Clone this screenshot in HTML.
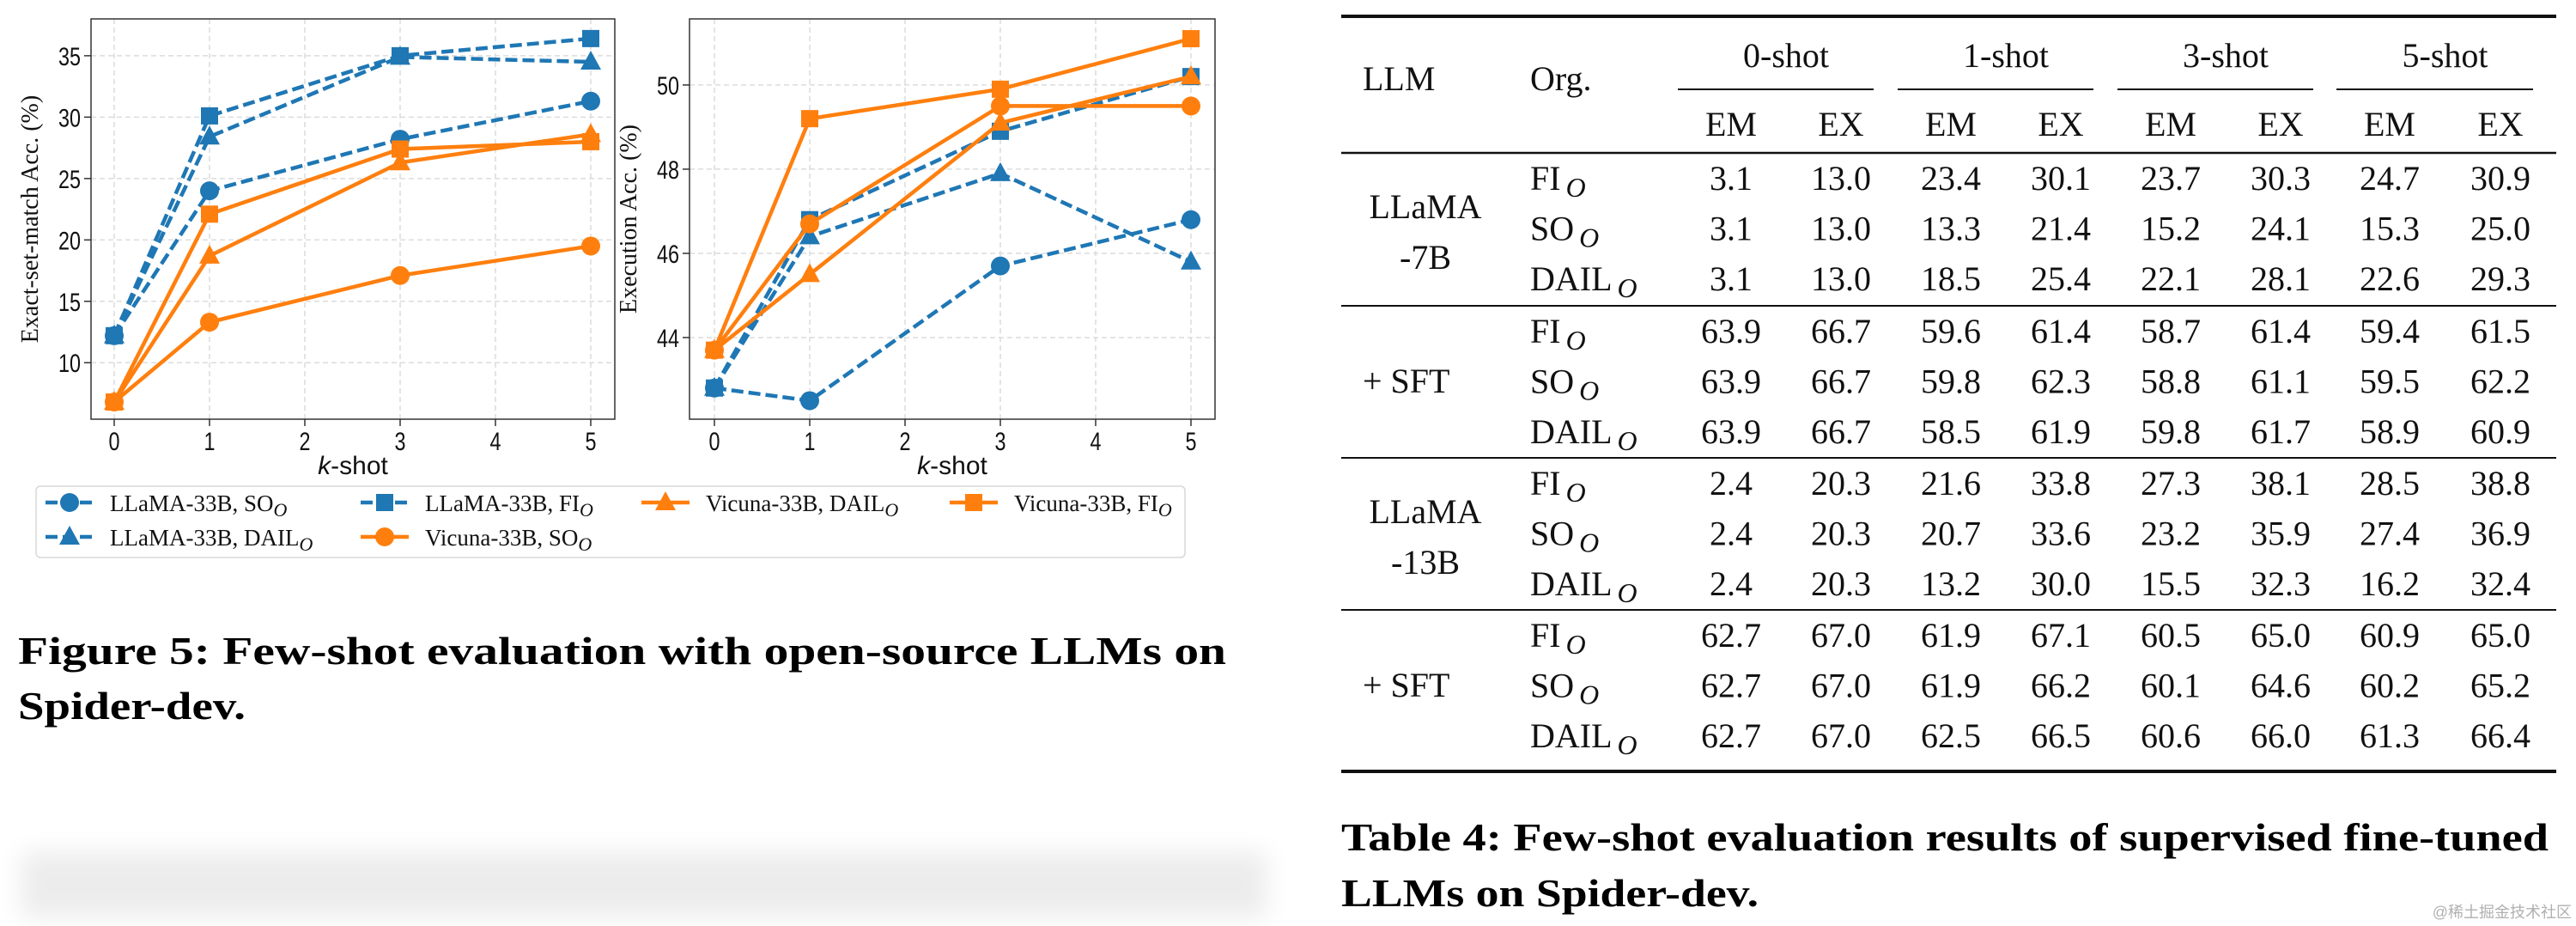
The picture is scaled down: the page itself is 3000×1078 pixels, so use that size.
<!DOCTYPE html>
<html><head><meta charset="utf-8"><style>
html,body{margin:0;padding:0;background:#fff;}
svg{display:block;}
.t{font-family:"Liberation Serif",serif;}
</style></head><body>
<svg id="root" width="3000" height="1078" viewBox="0 0 3000 1078" xmlns="http://www.w3.org/2000/svg">
<defs>
<filter id="blur" x="-10%" y="-50%" width="120%" height="200%"><feGaussianBlur stdDeviation="14"/></filter>
</defs>
<g id="charts"></g>
<g id="legend"></g>
<text class="t" x="21" y="773" font-size="46" font-weight="bold" textLength="1407" lengthAdjust="spacingAndGlyphs">Figure 5: Few-shot evaluation with open-source LLMs on</text>
<text class="t" x="21" y="837" font-size="46" font-weight="bold" textLength="265" lengthAdjust="spacingAndGlyphs">Spider-dev.</text>
<rect x="25" y="992" width="1450" height="76" fill="#ececec" filter="url(#blur)"/>
<g id="table"></g>
<text class="t" x="1562" y="990" font-size="46" font-weight="bold" textLength="1406" lengthAdjust="spacingAndGlyphs">Table 4: Few-shot evaluation results of supervised fine-tuned</text>
<text class="t" x="1562" y="1055" font-size="46" font-weight="bold" textLength="486" lengthAdjust="spacingAndGlyphs">LLMs on Spider-dev.</text>
<text x="2995" y="1068" text-anchor="end" font-family="'Liberation Sans','Noto Sans CJK SC',sans-serif" font-size="18" fill="#b0b0b0">@稀土掘金技术社区</text>
</svg>
<script>
const NS='http://www.w3.org/2000/svg';
// ---- chart data ----
const kshots=[0,1,3,5];
const xTicks=[0,1,2,3,4,5];
const emTicks=[10,15,20,25,30,35];
const exTicks=[44,46,48,50];
const seriesNames=['LLaMA-33B, SO','LLaMA-33B, FI','LLaMA-33B, DAIL','Vicuna-33B, DAIL','Vicuna-33B, FI','Vicuna-33B, SO'];
const emLlamaSO=[12.2,24.0,28.2,31.3];
const emLlamaFI=[12.2,30.1,35.0,36.4];
const emLlamaDAIL=[12.2,28.4,34.9,34.5];
const emVicunaDAIL=[6.8,18.7,26.3,28.6];
const emVicunaFI=[6.8,22.1,27.4,28.0];
const emVicunaSO=[6.8,13.3,17.1,19.5];
const exLlamaSO=[42.8,42.5,45.7,46.8];
const exLlamaFI=[42.8,46.8,48.9,50.2];
const exLlamaDAIL=[42.8,46.4,47.9,45.8];
const exVicunaDAIL=[43.7,45.5,49.1,50.2];
const exVicunaFI=[43.7,49.2,49.9,51.1];
const exVicunaSO=[43.7,46.7,49.5,49.5];

function el(tag,attrs,parent){const e=document.createElementNS(NS,tag);for(const k in attrs)e.setAttribute(k,attrs[k]);parent.appendChild(e);return e;}
const BLUE='#1f77b4',ORANGE='#ff7f0e';
const styles=[
 {c:BLUE,m:'o',d:true},{c:BLUE,m:'s',d:true},{c:BLUE,m:'^',d:true},
 {c:ORANGE,m:'^',d:false},{c:ORANGE,m:'s',d:false},{c:ORANGE,m:'o',d:false}];
function marker(g,m,x,y,c){
  let e;
  if(m==='o'){e=el('circle',{cx:x,cy:y,r:11,fill:c},g);}
  else if(m==='s'){e=el('rect',{x:x-10,y:y-10,width:20,height:20,fill:c},g);}
  else {e=el('polygon',{points:`${x},${y-13} ${x+12},${y+9} ${x-12},${y+9}`,fill:c},g);}
  return e;
}
const charts=document.getElementById('charts');
function drawChart(name,L,R,T,B,x0,x5,yLo,yHi,yTicks,data,ylabel){
  const g=el('g',{},charts);
  
  
  const sx=v=>x0+(x5-x0)*v/5;
  const sy=v=>B-(B-T)*(v-yLo)/(yHi-yLo);
  xTicks.forEach(t=>{
    const l=el('line',{x1:sx(t),x2:sx(t),y1:T,y2:B,stroke:'#dcdcdc','stroke-width':1.5,'stroke-dasharray':'6,4'},g);
    
    
    el('line',{x1:sx(t),x2:sx(t),y1:B,y2:B+8,stroke:'#333','stroke-width':1.5},g);
    const tx=el('text',{x:sx(t),y:B+36,'text-anchor':'middle','font-family':'Liberation Sans,sans-serif','font-size':30,fill:'#111',textLength:13,lengthAdjust:'spacingAndGlyphs'},g);
    tx.textContent=t;
    
    
  });
  yTicks.forEach(t=>{
    const l=el('line',{x1:L,x2:R,y1:sy(t),y2:sy(t),stroke:'#dcdcdc','stroke-width':1.5,'stroke-dasharray':'6,4'},g);
    
    
    el('line',{x1:L-8,x2:L,y1:sy(t),y2:sy(t),stroke:'#333','stroke-width':1.5},g);
    const tx=el('text',{x:L-12,y:sy(t)+11,'text-anchor':'end','font-family':'Liberation Sans,sans-serif','font-size':30,fill:'#111',textLength:String(t).length*13,lengthAdjust:'spacingAndGlyphs'},g);
    tx.textContent=t;
    
    
  });
  const fr=el('rect',{x:L,y:T,width:R-L,height:B-T,fill:'none',stroke:'#333','stroke-width':1.5},g);
  
  
  data.forEach((arr,i)=>{
    const s=styles[i];
    const sg=el('g',{},g);
    
    
    const pts=arr.map((v,j)=>sx(kshots[j])+','+sy(v)).join(' ');
    const pl=el('polyline',{points:pts,fill:'none',stroke:s.c,'stroke-width':4.5,'stroke-dasharray':s.d?'14,6':'none'},sg);
    
    
    arr.forEach((v,j)=>{
      const mk=marker(sg,s.m,sx(kshots[j]),sy(v),s.c);
      
      
    });
  });
  const xl=el('text',{x:(L+R)/2,y:B+64,'text-anchor':'middle','font-family':'Liberation Sans,sans-serif','font-size':30,fill:'#111'},g);
  xl.innerHTML='<tspan font-style="italic">k</tspan>-shot';
  
  
  const yl=el('text',{x:0,y:0,'text-anchor':'middle','font-family':'Liberation Serif,serif','font-size':28,fill:'#111',transform:`translate(${L-62},${(T+B)/2}) rotate(-90)`},g);
  yl.textContent=ylabel;
  
  
}
drawChart('em-chart',106,716,22,488,133,688,5.4,38.0,emTicks,
  [emLlamaSO,emLlamaFI,emLlamaDAIL,emVicunaDAIL,emVicunaFI,emVicunaSO],'Exact-set-match Acc. (%)');
drawChart('ex-chart',803,1415,22,488,832,1387,42.06,51.57,exTicks,
  [exLlamaSO,exLlamaFI,exLlamaDAIL,exVicunaDAIL,exVicunaFI,exVicunaSO],'Execution Acc. (%)');

// legend
const lg=document.getElementById('legend');
el('rect',{x:42,y:566,width:1338,height:83,rx:5,fill:'#fff',stroke:'#d8d8d8','stroke-width':1.5},lg);
const legPos=[[53,585,0],[53,625,2],[420,585,1],[420,625,5],[747,585,3],[1106,585,4]];
legPos.forEach(p=>{
  const [x,y,i]=p;const s=styles[i];
  const eg=el('g',{},lg);
  
  
  el('line',{x1:x,x2:x+56,y1:y,y2:y,stroke:s.c,'stroke-width':4.5,'stroke-dasharray':s.d?'14,6':'none'},eg);
  marker(eg,s.m,x+28,y,s.c);
  const t=el('text',{x:x+75,y:y+10,'font-family':'Liberation Serif,serif','font-size':27,fill:'#111'},eg);
  t.innerHTML=seriesNames[i]+'<tspan font-style="italic" font-size="22" dy="6">O</tspan>';
});

// ---- table ----
const tb=document.getElementById('table');
const colX=[2016,2144,2272,2400,2528,2656,2783,2912];
const groups=[
 ['LLaMA','-7B',[[3.1,13.0,23.4,30.1,23.7,30.3,24.7,30.9],[3.1,13.0,13.3,21.4,15.2,24.1,15.3,25.0],[3.1,13.0,18.5,25.4,22.1,28.1,22.6,29.3]]],
 ['+ SFT',null,[[63.9,66.7,59.6,61.4,58.7,61.4,59.4,61.5],[63.9,66.7,59.8,62.3,58.8,61.1,59.5,62.2],[63.9,66.7,58.5,61.9,59.8,61.7,58.9,60.9]]],
 ['LLaMA','-13B',[[2.4,20.3,21.6,33.8,27.3,38.1,28.5,38.8],[2.4,20.3,20.7,33.6,23.2,35.9,27.4,36.9],[2.4,20.3,13.2,30.0,15.5,32.3,16.2,32.4]]],
 ['+ SFT',null,[[62.7,67.0,61.9,67.1,60.5,65.0,60.9,65.0],[62.7,67.0,61.9,66.2,60.1,64.6,60.2,65.2],[62.7,67.0,62.5,66.5,60.6,66.0,61.3,66.4]]]];
const orgs=['FI','SO','DAIL'];
function tx(x,y,s,anchor,name,size){const t=el('text',{x:x,y:y,'text-anchor':anchor||'middle','font-family':'Liberation Serif,serif','font-size':size||40,fill:'#111'},tb);t.innerHTML=s;return t;}
function rule(x1,x2,y,w){const l=el('line',{x1:x1,x2:x2,y1:y,y2:y,stroke:'#111','stroke-width':w},tb);}
rule(1562,2977,19,4);
tx(1587,105,'LLM','start','header-llm');
tx(1782,105,'Org.','start','header-org');
['0-shot','1-shot','3-shot','5-shot'].forEach((h,i)=>{
  tx((colX[2*i]+colX[2*i+1])/2,78,h,'middle','header-shot');
  rule(colX[2*i]-62,colX[2*i+1]+38,104,2);
  tx(colX[2*i],158,'EM','middle','header-em');
  tx(colX[2*i+1],158,'EX','middle','header-ex');
});
rule(1562,2977,178,2.5);
const rowY0=[207,385,562,739];
groups.forEach((gr,gi)=>{
  const y0=rowY0[gi];
  if(gr[1]){
    tx(1660,y0+47,gr[0],'middle','model-name');
    tx(1660,y0+106,gr[1],'middle','model-size');
  } else tx(1587,y0+72,gr[0],'start','sft-label');
  gr[2].forEach((row,ri)=>{
    const y=y0+ri*58.5+14;
    tx(1782,y,orgs[ri]+'<tspan font-style="italic" font-size="32" dx="6" dy="8">O</tspan>','start','org-label');
    row.forEach((v,ci)=>tx(colX[ci],y,v.toFixed(1),'middle','table-cell'));
  });
  if(gi<3) rule(1562,2977,[356,533,710][gi],2);
});
rule(1562,2977,898,4);
</script>
</body></html>
